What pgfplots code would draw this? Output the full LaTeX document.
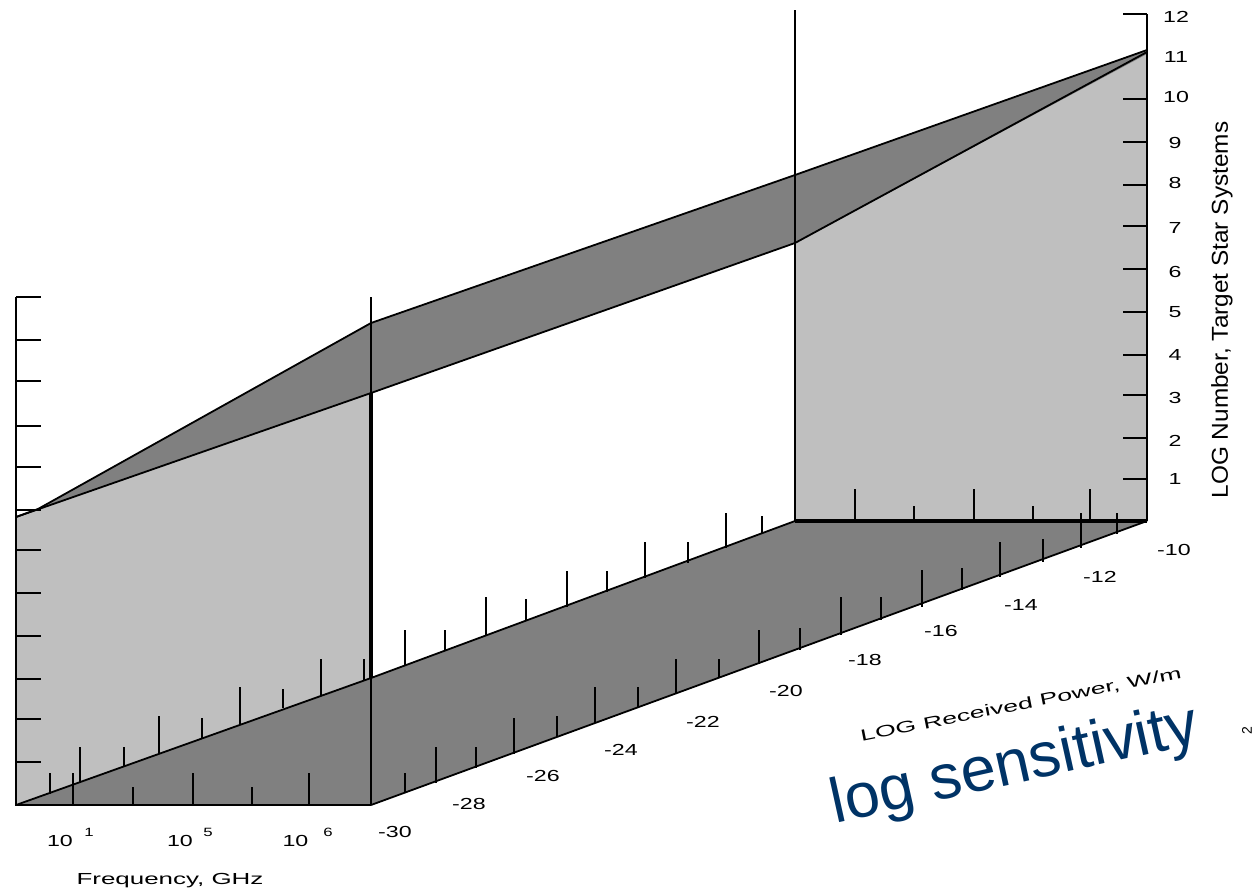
\documentclass[border=0pt]{standalone}
\usepackage{graphicx}
\usepackage{fontspec}
\setmainfont{Liberation Sans}
\usepackage{pgfplots}
\pgfplotsset{compat=1.18}
\definecolor{wall}{HTML}{BFBFBF}
\definecolor{floorc}{HTML}{808080}
\definecolor{navy}{HTML}{003366}
\newcommand{\tk}[3]{\addplot[black,line width=1.8pt] coordinates {(#1,#2)(#1,#3)};}
\newcommand{\hk}[1]{\addplot[black,line width=1.8pt] coordinates {(16,#1)(41,#1)};}
\newcommand{\rk}[1]{\addplot[black,line width=1.8pt] coordinates {(1123,#1)(1147,#1)};}
\newcommand{\lab}[3]{\node[inner sep=0pt,anchor=center] at (axis cs:#1,#2) {\fontsize{16pt}{16pt}\selectfont\scalebox{1.45}[1]{#3}};}
\newcommand{\suplab}[3]{\node[inner sep=0pt,anchor=center] at (axis cs:#1,#2) {\fontsize{12pt}{12pt}\selectfont\scalebox{1.4}[1]{#3}};}
\begin{document}
\begin{tikzpicture}
\begin{axis}[
  scale only axis, width=1253pt, height=892pt,
  xmin=0, xmax=1253, ymin=0, ymax=892, y dir=reverse,
  hide axis, clip=false]
% invisible frame that fixes the page size
\addplot[draw=none] coordinates {(0,0)(1253,0)(1253,892)(0,892)(0,0)};
% walls
\addplot[fill=wall,draw=none] coordinates {(16,517)(371,393)(371,805)(16,805)} --cycle;
\addplot[fill=wall,draw=none] coordinates {(795,243)(1147,52)(1147,521)(795,521)} --cycle;
% floor
\addplot[fill=floorc,draw=none] coordinates {(16,805)(371,678)(795,521)(1147,521)(371,805)} --cycle;
% sloped band
\addplot[fill=floorc,draw=none] coordinates {(16,517)(38,509)(371,323)(795,175)(1147,50)(1147,54)(795,243)(371,393)} --cycle;
% wall ticks behind the floor edge
\tk{50}{773}{794}\tk{80}{747}{782}\tk{124}{747}{767}\tk{159}{716}{753}\tk{202}{718}{738}
\tk{240}{687}{725}\tk{283}{689}{708}\tk{321}{659}{695}\tk{364}{659}{680}
\tk{405}{630}{665}\tk{445}{630}{651}\tk{486}{597}{636}\tk{526}{599}{621}\tk{567}{571}{607}
\tk{607}{571}{592}\tk{645}{542}{578}\tk{688}{542}{563}\tk{726}{513}{548}\tk{762}{516}{534}
% front edge ticks
\tk{73}{773}{805}\tk{133}{787}{805}\tk{193}{773}{805}\tk{252}{787}{805}\tk{309}{773}{805}
% right floor edge ticks
\tk{405}{773}{793}\tk{436}{747}{783}\tk{476}{747}{768}\tk{514}{718}{754}\tk{557}{716}{737}
\tk{595}{687}{723}\tk{638}{687}{708}\tk{676}{659}{694}\tk{719}{659}{678}\tk{759}{630}{664}
\tk{800}{628}{650}\tk{841}{597}{635}\tk{881}{597}{620}\tk{922}{570}{607}\tk{962}{568}{590}
\tk{1000}{542}{577}\tk{1043}{539}{562}\tk{1081}{513}{548}\tk{1117}{513}{534}
% back wall ticks
\tk{855}{489}{521}\tk{914}{506}{521}\tk{974}{489}{521}\tk{1033}{506}{521}\tk{1090}{489}{521}
% edges
\addplot[black,line width=1.8pt] coordinates {(16,517)(38,509)(371,323)(795,175)(1147,50)};
\addplot[black,line width=1.8pt] coordinates {(16,517)(371,393)(795,243)(1147,52)};
\addplot[black,line width=1.8pt] coordinates {(16,805)(371,678)(795,521)};
\addplot[black,line width=1.8pt] coordinates {(371,805)(1147,521)};
% frame
\addplot[black,line width=1.8pt] coordinates {(16,297)(16,805)(371,805)};
\addplot[black,line width=1.8pt] coordinates {(371,297)(371,393)};
\addplot[black,line width=4pt] coordinates {(371,393)(371,678)};
\addplot[black,line width=1.8pt] coordinates {(371,678)(371,805)};
\addplot[black,line width=1.8pt] coordinates {(795,10)(795,521)};
\addplot[black,line width=4pt] coordinates {(795,521)(1147,521)};
\addplot[black,line width=1.8pt] coordinates {(1147,14)(1147,521)};
% left ticks
\hk{297}\hk{340}\hk{381}\hk{426}\hk{467}\hk{510}\hk{550}\hk{593}\hk{636}\hk{679}\hk{719}\hk{762}
% right ticks
\rk{14}\rk{99}\rk{142}\rk{185}\rk{226}\rk{269}\rk{312}\rk{355}\rk{395}\rk{438}\rk{479}
% labels
\lab{1176}{17}{12}\lab{1176}{57}{11}\lab{1176}{97}{10}\lab{1175}{143}{9}\lab{1175}{183}{8}
\lab{1175}{228}{7}\lab{1175}{272}{6}\lab{1175}{312}{5}\lab{1175}{355}{4}\lab{1175}{398}{3}
\lab{1175}{441}{2}\lab{1175}{479}{1}
\lab{1174}{550}{-10}\lab{1100}{577}{-12}\lab{1021}{605}{-14}\lab{941}{631}{-16}\lab{865}{660}{-18}
\lab{786}{691}{-20}\lab{703}{722}{-22}\lab{621}{750}{-24}\lab{543}{776}{-26}\lab{469}{804}{-28}\lab{395}{832}{-30}
\lab{60}{841}{10}\lab{180}{841}{10}\lab{295.5}{841}{10}
\suplab{89}{832}{1}\suplab{208}{832}{5}\suplab{328}{832}{6}
\node[inner sep=0pt,anchor=center] at (axis cs:170,881) {\fontsize{16pt}{16pt}\selectfont\scalebox{1.62}[1]{Frequency, GHz}};
\node[inner sep=0pt,anchor=center,rotate=90] at (axis cs:1222,310) {\fontsize{23pt}{23pt}\selectfont\scalebox{1.06}[1]{LOG Number, Target Star Systems}};
\node[inner sep=0pt,anchor=center,rotate=11.2] at (axis cs:1021,705) {\fontsize{16pt}{16pt}\selectfont\scalebox{1.67}[1]{LOG Received Power, W/m}};
\node[inner sep=0pt,anchor=center,rotate=90] at (axis cs:1247,731) {\fontsize{14pt}{14pt}\selectfont 2};
\node[inner sep=0pt,anchor=center,rotate=12.5,text=navy] at (axis cs:1015,767) {\fontsize{63pt}{63pt}\selectfont log sensitivity};
\end{axis}
\end{tikzpicture}
\end{document}
